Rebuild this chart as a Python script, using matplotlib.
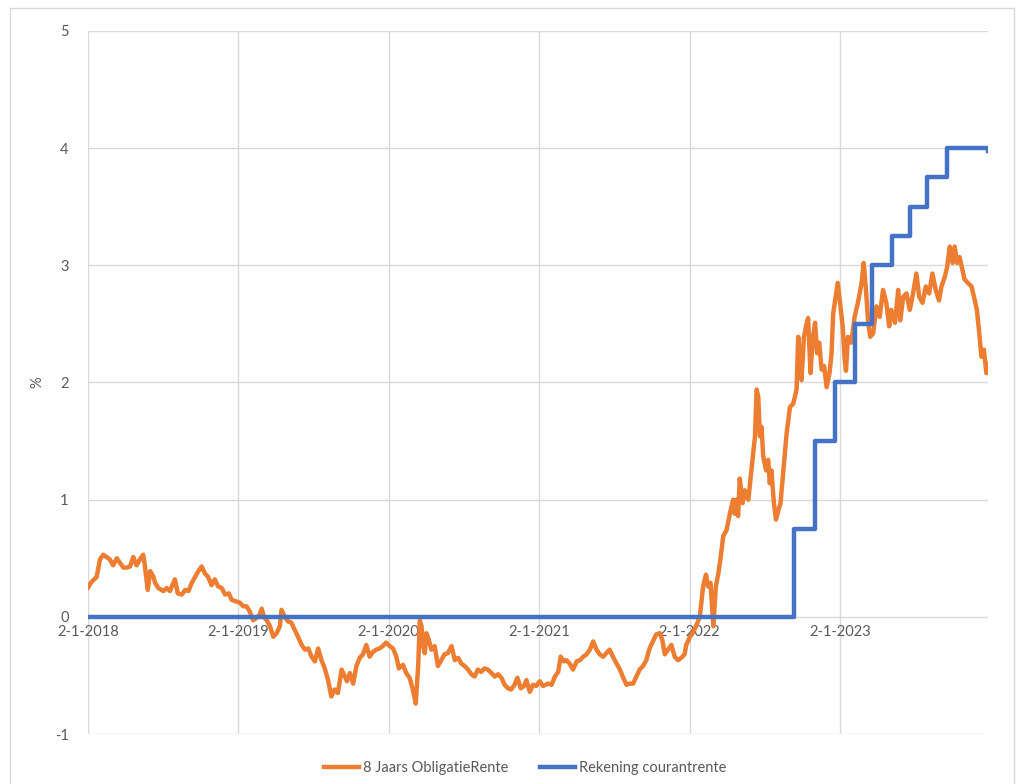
import matplotlib
matplotlib.use("Agg")
import matplotlib.pyplot as plt
import matplotlib.dates as mdates
from matplotlib.patches import Rectangle
import pandas as pd

# ---------------- data ----------------
bond_dates = [
    # 2018
    "2018-01-02", "2018-01-11", "2018-01-23", "2018-01-31", "2018-02-08", "2018-02-16",
    "2018-02-24", "2018-03-04", "2018-03-13", "2018-03-21", "2018-03-29", "2018-04-06",
    "2018-04-14", "2018-04-22", "2018-04-30", "2018-05-08", "2018-05-16", "2018-05-20",
    "2018-05-27", "2018-06-02", "2018-06-10", "2018-06-14", "2018-06-22", "2018-07-04",
    "2018-07-12", "2018-07-20", "2018-08-01", "2018-08-08", "2018-08-18", "2018-08-26",
    "2018-09-03", "2018-09-11", "2018-09-19", "2018-09-27", "2018-10-05", "2018-10-13",
    "2018-10-21", "2018-10-29", "2018-11-06", "2018-11-14", "2018-11-23", "2018-12-01",
    "2018-12-10", "2018-12-17", "2018-12-29",
    # 2019
    "2019-01-06", "2019-01-14", "2019-01-22", "2019-01-30", "2019-02-07", "2019-02-15",
    "2019-02-23", "2019-02-28", "2019-03-05", "2019-03-12", "2019-03-20", "2019-03-28",
    "2019-04-05", "2019-04-13", "2019-04-17", "2019-04-25", "2019-05-03", "2019-05-11",
    "2019-05-19", "2019-05-27", "2019-06-05", "2019-06-13", "2019-06-21", "2019-06-29",
    "2019-07-07", "2019-07-15", "2019-07-23", "2019-07-31", "2019-08-08", "2019-08-16",
    "2019-08-24", "2019-09-01", "2019-09-10", "2019-09-18", "2019-09-23", "2019-09-30",
    "2019-10-08", "2019-10-16", "2019-10-24", "2019-11-01", "2019-11-09", "2019-11-17",
    "2019-11-25", "2019-12-03", "2019-12-11", "2019-12-19", "2019-12-27",
    # 2020
    "2020-01-05", "2020-01-13", "2020-01-21", "2020-01-27", "2020-02-06", "2020-02-14",
    "2020-02-22", "2020-03-01", "2020-03-08", "2020-03-14", "2020-03-18", "2020-03-22",
    "2020-03-26", "2020-03-30", "2020-04-03", "2020-04-09", "2020-04-15", "2020-04-23",
    "2020-05-01", "2020-05-09", "2020-05-17", "2020-05-25", "2020-06-03", "2020-06-11",
    "2020-06-19", "2020-06-27", "2020-07-05", "2020-07-13", "2020-07-21", "2020-07-29",
    "2020-08-06", "2020-08-14", "2020-08-22", "2020-08-30", "2020-09-08", "2020-09-16",
    "2020-09-24", "2020-10-02", "2020-10-10", "2020-10-18", "2020-10-26", "2020-11-03",
    "2020-11-10", "2020-11-18", "2020-11-26", "2020-12-02", "2020-12-10", "2020-12-18",
    "2020-12-26",
    # 2021
    "2021-01-03", "2021-01-11", "2021-01-24", "2021-02-01", "2021-02-09", "2021-02-17",
    "2021-02-23", "2021-03-03", "2021-03-09", "2021-03-17", "2021-03-25", "2021-04-03",
    "2021-04-11", "2021-04-19", "2021-04-27", "2021-05-05", "2021-05-13", "2021-05-21",
    "2021-05-29", "2021-06-06", "2021-06-14", "2021-06-22", "2021-06-30", "2021-07-09",
    "2021-07-17", "2021-07-25", "2021-08-02", "2021-08-10", "2021-08-18", "2021-08-26",
    "2021-09-03", "2021-09-11", "2021-09-19", "2021-09-27", "2021-10-05", "2021-10-13",
    "2021-10-22", "2021-10-28", "2021-11-03", "2021-11-11", "2021-11-19", "2021-11-27",
    "2021-12-05", "2021-12-13", "2021-12-21", "2021-12-25",
    # 2022
    "2022-01-03", "2022-01-11", "2022-01-19", "2022-01-27", "2022-02-04", "2022-02-11",
    "2022-02-16", "2022-02-22", "2022-03-01", "2022-03-07", "2022-03-13", "2022-03-18",
    "2022-03-25", "2022-04-02", "2022-04-10", "2022-04-18", "2022-04-22", "2022-04-26",
    "2022-04-30", "2022-05-04", "2022-05-11", "2022-05-16", "2022-05-25", "2022-05-29",
    "2022-06-04", "2022-06-10", "2022-06-14", "2022-06-18", "2022-06-22", "2022-06-26",
    "2022-06-30", "2022-07-07", "2022-07-12", "2022-07-16", "2022-07-20", "2022-07-26",
    "2022-07-31", "2022-08-06", "2022-08-11", "2022-08-18", "2022-08-26", "2022-09-03",
    "2022-09-11", "2022-09-19", "2022-09-23", "2022-09-27", "2022-10-01", "2022-10-07",
    "2022-10-12", "2022-10-17", "2022-10-23", "2022-10-28", "2022-11-03", "2022-11-08",
    "2022-11-13", "2022-11-19", "2022-11-25", "2022-12-01", "2022-12-08", "2022-12-13",
    "2022-12-17", "2022-12-23", "2022-12-28",
    # 2023
    "2023-01-02", "2023-01-09", "2023-01-14", "2023-01-17", "2023-01-22", "2023-01-30",
    "2023-02-07", "2023-02-15", "2023-02-24", "2023-03-01", "2023-03-06", "2023-03-12",
    "2023-03-17", "2023-03-24", "2023-04-01", "2023-04-09", "2023-04-17", "2023-04-25",
    "2023-05-02", "2023-05-07", "2023-05-16", "2023-05-24", "2023-05-29", "2023-06-05",
    "2023-06-13", "2023-06-21", "2023-06-29", "2023-07-07", "2023-07-14", "2023-07-22",
    "2023-07-30", "2023-08-07", "2023-08-15", "2023-08-23", "2023-08-31", "2023-09-06",
    "2023-09-14", "2023-09-20", "2023-09-26", "2023-10-03", "2023-10-08", "2023-10-14",
    "2023-10-20", "2023-10-27", "2023-11-01", "2023-11-09", "2023-11-18", "2023-11-26",
    "2023-12-01", "2023-12-06", "2023-12-12", "2023-12-18", "2023-12-24", "2023-12-27",
]

bond_values = [
    # 2018
    0.25, 0.30, 0.34, 0.49, 0.53, 0.51,
    0.49, 0.44, 0.50, 0.46, 0.42, 0.42,
    0.43, 0.51, 0.44, 0.49, 0.53, 0.44,
    0.23, 0.39, 0.34, 0.29, 0.245, 0.22,
    0.245, 0.22, 0.32, 0.20, 0.19, 0.23,
    0.22, 0.29, 0.34, 0.39, 0.43, 0.37,
    0.34, 0.27, 0.32, 0.26, 0.245, 0.19,
    0.20, 0.145, 0.13,
    # 2019
    0.12, 0.09, 0.09, 0.045, -0.03, -0.01,
    0.02, 0.07, 0.00, -0.03, -0.08, -0.17,
    -0.14, -0.08, 0.06, 0.00, -0.04, -0.05,
    -0.11, -0.17, -0.24, -0.28, -0.27, -0.34,
    -0.38, -0.27, -0.37, -0.44, -0.54, -0.68,
    -0.62, -0.65, -0.45, -0.51, -0.55, -0.48,
    -0.57, -0.42, -0.35, -0.32, -0.24, -0.34,
    -0.30, -0.28, -0.27, -0.25, -0.22,
    # 2020
    -0.25, -0.27, -0.34, -0.44, -0.41, -0.48,
    -0.52, -0.62, -0.74, -0.42, -0.03, -0.08,
    -0.25, -0.31, -0.14, -0.20, -0.28, -0.25,
    -0.42, -0.37, -0.32, -0.31, -0.25, -0.37,
    -0.35, -0.40, -0.42, -0.45, -0.49, -0.51,
    -0.45, -0.47, -0.44, -0.45, -0.48, -0.51,
    -0.49, -0.52, -0.58, -0.61, -0.62, -0.58,
    -0.52, -0.61, -0.59, -0.54, -0.64, -0.58,
    -0.59,
    # 2021
    -0.55, -0.59, -0.57, -0.58, -0.51, -0.47,
    -0.34, -0.38, -0.37, -0.40, -0.45, -0.38,
    -0.37, -0.34, -0.32, -0.28, -0.21, -0.28,
    -0.32, -0.34, -0.31, -0.28, -0.34, -0.40,
    -0.45, -0.52, -0.58, -0.57, -0.57, -0.51,
    -0.45, -0.42, -0.37, -0.27, -0.21, -0.15,
    -0.14, -0.20, -0.32, -0.28, -0.24, -0.34,
    -0.37, -0.35, -0.32, -0.24,
    # 2022
    -0.17, -0.13, -0.07, 0.00, 0.26, 0.36,
    0.26, 0.29, -0.08, 0.26, 0.37, 0.49,
    0.69, 0.74, 0.88, 1.00, 0.88, 1.00,
    0.86, 1.18, 0.97, 1.08, 1.00, 1.14,
    1.34, 1.54, 1.94, 1.88, 1.54, 1.62,
    1.37, 1.25, 1.34, 1.14, 1.25, 0.97,
    0.83, 0.91, 0.97, 1.25, 1.57, 1.79,
    1.82, 1.94, 2.39, 2.25, 2.02, 2.39,
    2.48, 2.55, 2.08, 2.36, 2.51, 2.25,
    2.34, 2.11, 2.14, 1.96, 2.08, 2.25,
    2.59, 2.73, 2.85,
    # 2023
    2.70, 2.48, 2.19, 2.10, 2.39, 2.34,
    2.56, 2.68, 2.85, 3.02, 2.82, 2.51,
    2.39, 2.42, 2.65, 2.56, 2.79, 2.68,
    2.48, 2.62, 2.51, 2.79, 2.53, 2.73,
    2.76, 2.62, 2.76, 2.93, 2.73, 2.68,
    2.82, 2.76, 2.93, 2.79, 2.70, 2.82,
    2.90, 2.99, 3.16, 3.02, 3.16, 3.02,
    3.07, 2.96, 2.88, 2.85, 2.82, 2.70,
    2.62, 2.45, 2.22, 2.28, 2.08, 2.16,
]

rate_dates = ["2018-01-02", "2022-09-14", "2022-11-02", "2022-12-21", "2023-02-08",
              "2023-03-22", "2023-05-10", "2023-06-21", "2023-08-02", "2023-09-20",
              "2023-12-27"]
rate_values = [0.0, 0.75, 1.5, 2.0, 2.5, 3.0, 3.25, 3.5, 3.75, 4.0, 3.98]

year_ticks = ["2018-01-02", "2019-01-02", "2020-01-02", "2021-01-02",
              "2022-01-02", "2023-01-02"]
y_ticks = [-1, 0, 1, 2, 3, 4, 5]

series_names = ["8 Jaars ObligatieRente", "Rekening courantrente"]

# ---------------- styling ----------------
plt.rcParams["font.family"] = ["Lato", "DejaVu Sans"]
plt.rcParams["axes.unicode_minus"] = False
ORANGE = "#ED7D31"
BLUE = "#4472C4"
GRID = "#D9D9D9"
TEXT = "#595959"

fig = plt.figure(figsize=(10.24, 7.84), dpi=100)
fig.patch.set_facecolor("white")
# chart-area frame
fig.patches.append(Rectangle((10 / 1024, -0.05), 1004 / 1024, 1.05 - 8 / 784,
                             transform=fig.transFigure, fill=False,
                             edgecolor=GRID, linewidth=1.0))

ax = fig.add_axes([88 / 1024, 1 - 734 / 784, 900 / 1024, (734 - 31) / 784])

bd = pd.to_datetime(bond_dates)
rd = pd.to_datetime(rate_dates)

ax.plot(bd, bond_values, color=ORANGE, linewidth=3.2, solid_joinstyle="round",
        label=series_names[0], zorder=3)
ax.plot(rd, rate_values, color=BLUE, linewidth=3.2, drawstyle="steps-post",
        label=series_names[1], zorder=4)

ax.set_ylim(-1, 5)
ax.set_xlim(pd.Timestamp("2018-01-02"), pd.Timestamp("2023-12-28"))
ax.set_yticks(y_ticks)
ax.set_xticks(pd.to_datetime(year_ticks))
ax.xaxis.set_major_formatter(
    plt.FuncFormatter(lambda v, p: (lambda d: f"{d.day}-{d.month}-{d.year}")(mdates.num2date(v))))

ax.grid(True, color=GRID, linewidth=1.0, zorder=0)
ax.set_axisbelow(True)

for s in ["top", "right", "left"]:
    ax.spines[s].set_visible(False)
ax.spines["bottom"].set_position(("data", 0))
ax.spines["bottom"].set_color("none")

ax.tick_params(axis="both", length=0, labelsize=10.5, labelcolor=TEXT)
ax.tick_params(axis="y", pad=14)
ax.tick_params(axis="x", pad=6)

ax.set_ylabel("%", fontsize=10.5, color=TEXT, labelpad=16)
ax.yaxis.set_label_coords(-44 / 900, 0.5)

fig.legend(loc="center", bbox_to_anchor=(525 / 1024, 1 - 768 / 784), ncol=2,
           frameon=False, fontsize=10.5, labelcolor=TEXT, handlelength=2.4,
           handletextpad=0.25, columnspacing=2.2)

fig.savefig("out.png", dpi=100)
